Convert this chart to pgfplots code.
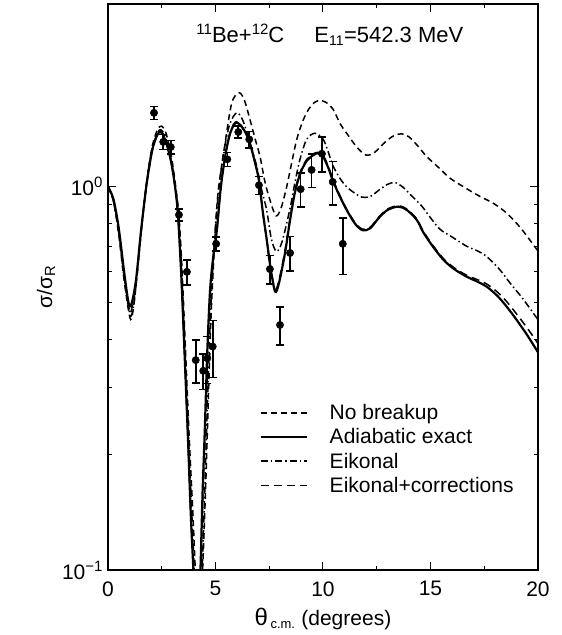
\documentclass[border=0pt]{standalone}
\usepackage{pgfplots}
\usepackage{pgfplotstable}
\pgfplotsset{compat=1.18}
\usepackage{fontspec}
\setmainfont{Liberation Sans}

\pgfplotstableread{
x y e
2.14 1.56 0.06
2.57 1.31 0.06
2.92 1.27 0.05
3.30 0.845 0.03
3.67 0.60 0.045
4.08 0.353 0.045
4.43 0.331 0.035
4.62 0.357 0.05
4.87 0.383 0.065
5.03 0.71 0.03
5.55 1.18 0.05
6.06 1.39 0.05
6.57 1.33 0.065
7.02 1.01 0.055
7.53 0.61 0.052
8.00 0.436 0.05
8.47 0.672 0.07
8.96 0.986 0.10
9.47 1.107 0.11
9.95 1.22 0.127
10.45 1.03 0.133
10.92 0.71 0.12
}\dataexp

\pgfplotstableread{
x y
0.0 1.00
0.25 0.92
0.5 0.75
0.75 0.57
1.02 0.455
1.15 0.47
1.3 0.55
1.55 0.77
1.8 1.03
2.05 1.27
2.3 1.41
2.5 1.44
2.7 1.38
2.95 1.20
3.15 1.00
3.3 0.84
3.45 0.60
3.6 0.38
3.78 0.22
3.95 0.14
4.1 0.09
4.25 0.07
4.4 0.10
4.55 0.17
4.7 0.32
4.82 0.50
5.0 0.78
5.13 0.98
5.4 1.25
5.75 1.65
6.1 1.76
6.35 1.68
6.6 1.50
6.85 1.33
7.07 1.20
7.3 1.03
7.53 0.925
7.81 0.84
8.05 0.88
8.31 1.00
8.55 1.16
8.78 1.33
9.05 1.48
9.32 1.59
9.6 1.66
9.86 1.68
10.15 1.66
10.48 1.59
10.8 1.46
11.1 1.38
11.57 1.27
12.0 1.21
12.4 1.23
12.9 1.31
13.3 1.36
13.66 1.375
14.0 1.35
14.4 1.28
14.82 1.20
15.4 1.12
15.9 1.054
16.6 0.995
17.3 0.944
17.92 0.906
18.54 0.854
19.2 0.78
20.0 0.68
}\nobreakup

\pgfplotstableread{
x y
0.0 1.00
0.25 0.93
0.5 0.78
0.75 0.60
0.95 0.50
1.08 0.492
1.3 0.57
1.55 0.78
1.8 1.02
2.05 1.24
2.25 1.35
2.4 1.39
2.55 1.37
2.75 1.28
2.95 1.15
3.12 1.00
3.25 0.85
3.4 0.60
3.55 0.38
3.72 0.22
3.85 0.14
3.97 0.10
4.1 0.065
4.2 0.07
4.3 0.10
4.4 0.16
4.5 0.23
4.62 0.375
4.75 0.54
4.9 0.66
5.05 0.76
5.25 1.00
5.45 1.20
5.65 1.36
5.85 1.45
6.0 1.47
6.15 1.45
6.35 1.40
6.56 1.32
6.8 1.18
7.02 1.04
7.2 0.86
7.38 0.73
7.55 0.62
7.77 0.533
7.95 0.56
8.23 0.67
8.47 0.82
8.7 0.97
8.96 1.09
9.25 1.17
9.55 1.21
9.78 1.224
10.0 1.20
10.25 1.12
10.48 1.03
10.8 0.94
11.1 0.87
11.5 0.80
11.85 0.77
12.2 0.78
12.6 0.83
13.0 0.87
13.5 0.888
13.9 0.87
14.36 0.82
14.67 0.76
15.1 0.70
15.6 0.645
16.1 0.61
16.68 0.583
17.2 0.565
17.61 0.549
18.1 0.52
18.54 0.487
19.0 0.45
19.5 0.41
20.0 0.37
}\adiabatic

\pgfplotstableread{
x y
0.0 1.00
0.25 0.92
0.5 0.76
0.75 0.58
1.02 0.465
1.15 0.475
1.3 0.55
1.55 0.77
1.8 1.03
2.05 1.26
2.3 1.38
2.45 1.41
2.65 1.36
2.9 1.20
3.1 1.02
3.28 0.84
3.43 0.60
3.58 0.38
3.75 0.22
3.9 0.14
4.05 0.09
4.2 0.065
4.35 0.09
4.5 0.16
4.65 0.30
4.78 0.48
4.95 0.72
5.1 0.92
5.35 1.20
5.65 1.45
5.98 1.56
6.25 1.50
6.53 1.35
6.75 1.22
6.92 1.13
7.15 0.98
7.38 0.87
7.6 0.73
7.84 0.678
8.1 0.72
8.47 0.88
8.7 1.03
8.93 1.18
9.24 1.33
9.63 1.38
10.01 1.33
10.25 1.23
10.48 1.13
10.8 1.05
11.1 1.00
11.45 0.965
11.8 0.94
12.19 0.943
12.6 0.98
13.0 1.015
13.35 1.026
13.7 1.00
14.1 0.95
14.6 0.89
15.0 0.83
15.44 0.775
16.0 0.74
16.68 0.70
17.2 0.68
17.61 0.658
18.2 0.61
18.7 0.561
19.3 0.51
20.0 0.45
}\eikonal

\pgfplotstableread{
x y
0.0 1.00
0.25 0.93
0.5 0.77
0.75 0.59
1.0 0.475
1.1 0.48
1.3 0.56
1.55 0.78
1.8 1.02
2.05 1.24
2.25 1.35
2.4 1.40
2.55 1.38
2.75 1.29
2.95 1.16
3.12 1.00
3.25 0.85
3.4 0.60
3.55 0.38
3.72 0.22
3.85 0.14
3.98 0.10
4.12 0.065
4.22 0.07
4.32 0.10
4.42 0.16
4.52 0.23
4.64 0.375
4.77 0.54
4.92 0.67
5.07 0.77
5.25 1.00
5.45 1.21
5.65 1.37
5.85 1.46
6.0 1.48
6.15 1.46
6.35 1.40
6.56 1.32
6.8 1.18
7.02 1.04
7.2 0.86
7.38 0.73
7.55 0.62
7.77 0.54
7.95 0.57
8.23 0.68
8.47 0.83
8.7 0.98
8.96 1.10
9.25 1.18
9.55 1.22
9.78 1.23
10.0 1.21
10.25 1.13
10.48 1.04
10.8 0.945
11.1 0.875
11.5 0.805
11.85 0.775
12.2 0.785
12.6 0.835
13.0 0.875
13.5 0.893
13.9 0.875
14.36 0.825
14.67 0.765
15.1 0.705
15.6 0.65
16.1 0.615
16.68 0.588
17.2 0.572
17.61 0.558
18.1 0.532
18.54 0.502
19.0 0.466
19.5 0.428
20.0 0.39
}\eikcorr

\newcommand{\myexp}[1]{\raisebox{8pt}{\fontsize{15}{15}\selectfont #1}}

\begin{document}
\begin{tikzpicture}
\begin{axis}[
  scale only axis, width=430pt, height=566pt,
  ymode=log, xmin=0, xmax=20, ymin=0.1, ymax=3,
  xtick={0,5,10,15,20}, minor x tick num=1,
  ytick={0.1,1}, yticklabels={10\myexp{−1},10\myexp{0}},
  tick align=inside,
  major tick length=8pt, minor tick length=4pt,
  every tick/.style={black, line width=1pt},
  axis line style={line width=1.3pt},
  font=\fontsize{21}{25}\selectfont,
  tick label style={font=\fontsize{21}{25}\selectfont},
  xticklabel style={yshift=-8pt},
  yticklabel style={xshift=-2pt},
  /pgf/number format/assume math mode=true,
  xlabel={{\fontsize{24}{26}\selectfont θ}\textsubscript{\,\fontsize{13}{13}\selectfont c.m.} (degrees)},
  xlabel style={yshift=-5pt},
  ylabel={σ/σ\textsubscript{R}},
  ylabel style={yshift=0pt},
  legend style={draw=none, fill=none, at={(rel axis cs:0.345,0.30)}, anchor=north west,
    font=\fontsize{21}{25}\selectfont, row sep=3.5pt, cells={anchor=west}},
  legend image code/.code={\draw[#1] (0pt,0pt) -- (46pt,0pt); \path (66pt,0pt);},
  clip=true,
]
\addplot[black, line width=1.5pt, smooth, dash pattern=on 6pt off 4pt] table {\nobreakup};
\addlegendentry{No breakup}
\addplot[black, line width=2.2pt, smooth] table {\adiabatic};
\addlegendentry{Adiabatic exact}
\addplot[black, line width=1.5pt, smooth, dash pattern=on 7pt off 3pt on 1.5pt off 3pt] table {\eikonal};
\addlegendentry{Eikonal}
\addplot[black, line width=1.5pt, smooth, dash pattern=on 8pt off 5pt] table {\eikcorr};
\addlegendentry{Eikonal+corrections}
\addplot[forget plot, only marks, mark=*, mark size=3.7pt, black,
  error bars/.cd, y dir=both, y explicit,
  error bar style={line width=1.6pt, solid},
  error mark options={rotate=90, mark size=4pt, line width=1.6pt}]
  table[x=x, y=y, y error=e] {\dataexp};
\node[font=\fontsize{22}{26}\selectfont] at (rel axis cs:0.516,0.945)
  {\myexp{11}Be+\myexp{12}C\hspace{30pt}E\textsubscript{\fontsize{14}{14}\selectfont 11}=542.3 MeV};
\end{axis}
\path ([xshift=-108pt,yshift=-65pt]current axis.south west) rectangle ([xshift=24pt,yshift=4pt]current axis.north east);
\end{tikzpicture}
\end{document}
